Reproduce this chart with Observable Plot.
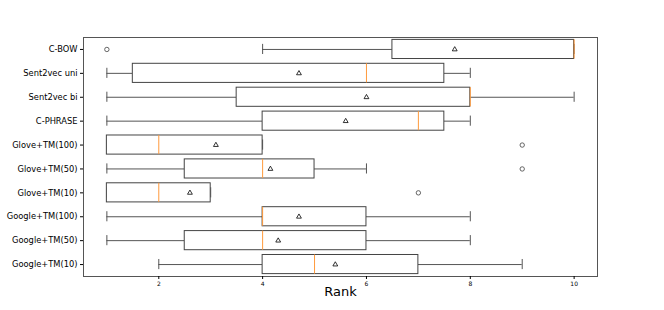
<!DOCTYPE html>
<html>
<head>
<meta charset="utf-8">
<script src="https://cdn.jsdelivr.net/npm/d3@7"></script>
<script src="https://cdn.jsdelivr.net/npm/@observablehq/plot@0.6"></script>
<style>
  html, body { margin: 0; padding: 0; background: #fff; }
  #chart svg { font-family: "DejaVu Sans", sans-serif; }
</style>
</head>
<body>
<div id="chart"></div>
<script>
const categories = ["C-BOW", "Sent2vec uni", "Sent2vec bi", "C-PHRASE", "Glove+TM(100)", "Glove+TM(50)", "Glove+TM(10)", "Google+TM(100)", "Google+TM(50)", "Google+TM(10)"];
const whiskerLow  = [4, 1, 1, 1, 1, 1, 1, 1, 1, 2];
const q1          = [6.5, 1.5, 3.5, 4, 1, 2.5, 1, 4, 2.5, 4];
const median      = [10, 6, 8, 7, 2, 4, 2, 4, 4, 5];
const q3          = [10, 7.5, 8, 7.5, 4, 5, 3, 6, 6, 7];
const whiskerHigh = [10, 8, 10, 8, 4, 6, 3, 8, 8, 9];
const means       = [7.7, 4.7, 6, 5.6, 3.1, 4.15, 2.6, 4.7, 4.3, 5.4];
const outlierNames  = ["C-BOW", "Glove+TM(100)", "Glove+TM(50)", "Glove+TM(10)"];
const outlierValues = [1, 9, 9, 7];
const xTicks = [2, 4, 6, 8, 10];

const rows = categories.map((name, i) => ({
  name, low: whiskerLow[i], q1: q1[i], median: median[i], q3: q3[i], high: whiskerHigh[i], mean: means[i]
}));
const outliers = outlierNames.map((name, i) => ({name, value: outlierValues[i]}));

const gray = "#555";
const chart = Plot.plot({
  width: 664,
  height: 310,
  marginLeft: 83,
  marginRight: 67,
  marginTop: 37,
  marginBottom: 34,
  x: {domain: [0.55, 10.45]},
  y: {domain: categories, paddingInner: 0.2, paddingOuter: 0.1, round: false},
  marks: [
    Plot.frame({stroke: gray}),
    Plot.ruleY(rows, {y: "name", x1: "low", x2: "q1", stroke: gray}),
    Plot.ruleY(rows, {y: "name", x1: "q3", x2: "high", stroke: gray}),
    Plot.tickX(rows, {y: "name", x: "low", stroke: gray, insetTop: 4.5, insetBottom: 4.5}),
    Plot.tickX(rows, {y: "name", x: "high", stroke: gray, insetTop: 4.5, insetBottom: 4.5}),
    Plot.barX(rows, {y: "name", x1: "q1", x2: "q3", fill: "white", stroke: "#444"}),
    Plot.tickX(rows, {y: "name", x: "median", stroke: "#ff9a3c"}),
    Plot.dot(rows, {y: "name", x: "mean", symbol: "triangle", r: 1.8, stroke: "black", strokeWidth: 0.8, fill: "none"}),
    Plot.dot(outliers, {y: "name", x: "value", r: 2.2, stroke: gray, strokeWidth: 0.9, fill: "none"}),
    Plot.axisX({ticks: xTicks, tickFormat: d => String(d), tickSize: 3, tickPadding: 2, fontSize: 6, label: null}),
    Plot.axisY({tickSize: 3, tickPadding: 3, fontSize: 8.3, label: null}),
    Plot.text(["Rank"], {frameAnchor: "bottom", dy: 19, fontSize: 13, fill: "black"})
  ]
});
document.getElementById("chart").appendChild(chart);
</script>
</body>
</html>
